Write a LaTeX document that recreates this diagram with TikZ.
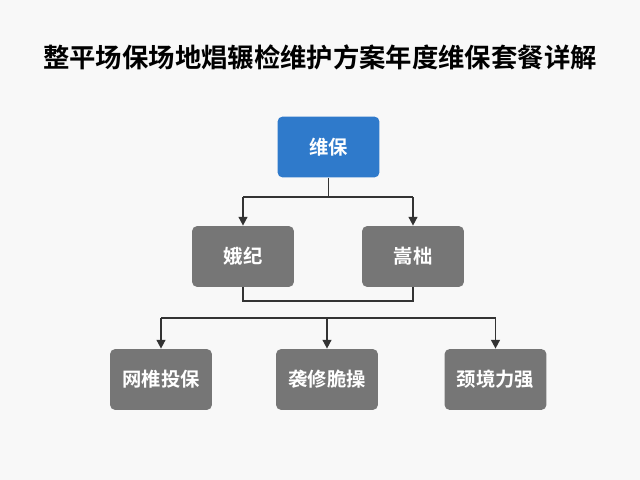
\documentclass[tikz,border=0pt]{standalone}
\usepackage{fontspec}
\setmainfont{Noto Sans CJK SC}[BoldFont={* Bold}]
\usetikzlibrary{arrows.meta}
\definecolor{bg}{HTML}{F8F8F8}
\definecolor{rootc}{HTML}{2F7ACB}
\definecolor{boxc}{HTML}{767676}
\tikzset{
  box/.style={draw=none,rounded corners=3pt,minimum width=2.04cm,minimum height=1.22cm,text=white,font=\bfseries\fontsize{11}{13}\selectfont},
  gbox/.style={box,fill=boxc},
  conn/.style={draw=black!80,line width=0.9pt},
  arr/.style={conn,-{Triangle[length=5pt,width=5pt]}}
}
\begin{document}
\begin{tikzpicture}[x=0.02cm,y=-0.02cm]
\fill[bg] (0,0) rectangle (640,480);
\useasboundingbox (0,0) rectangle (640,480);
\node[font=\bfseries\fontsize{15}{18}\selectfont] (title) at (320,57) {整平场保场地焻辗检维护方案年度维保套餐详解};
\node[box,fill=rootc] (root) at (328.5,147) {维保};
\node[gbox] (m1) at (243,256.5) {娥纪};
\node[gbox] (m2) at (413,256.5) {嵩柮};
\node[gbox] (b1) at (161,379.5) {网椎投保};
\node[gbox] (b2) at (327,379.5) {袭修脆操};
\node[gbox] (b3) at (495.5,379.5) {颈境力强};
\coordinate (j1) at (328.5,197);
\coordinate (j1l) at (243,197);
\coordinate (j1r) at (413,197);
\coordinate (j2l) at (243,301);
\coordinate (j2r) at (413,301);
\coordinate (h2) at (327,318);
\coordinate (h2l) at (161,318);
\coordinate (h2r) at (495.5,318);
\draw[conn] (root.south) -- (j1);
\draw[conn] (j1l) -- (j1r);
\draw[arr] (j1l) -- (m1.north);
\draw[arr] (j1r) -- (m2.north);
\draw[conn] (m1.south) -- (j2l) -- (j2r) -- (m2.south);
\draw[conn] (h2l) -- (h2r);
\draw[arr] (h2l) -- (b1.north);
\draw[arr] (h2) -- (b2.north);
\draw[arr] (h2r) -- (b3.north);
\end{tikzpicture}
\end{document}
